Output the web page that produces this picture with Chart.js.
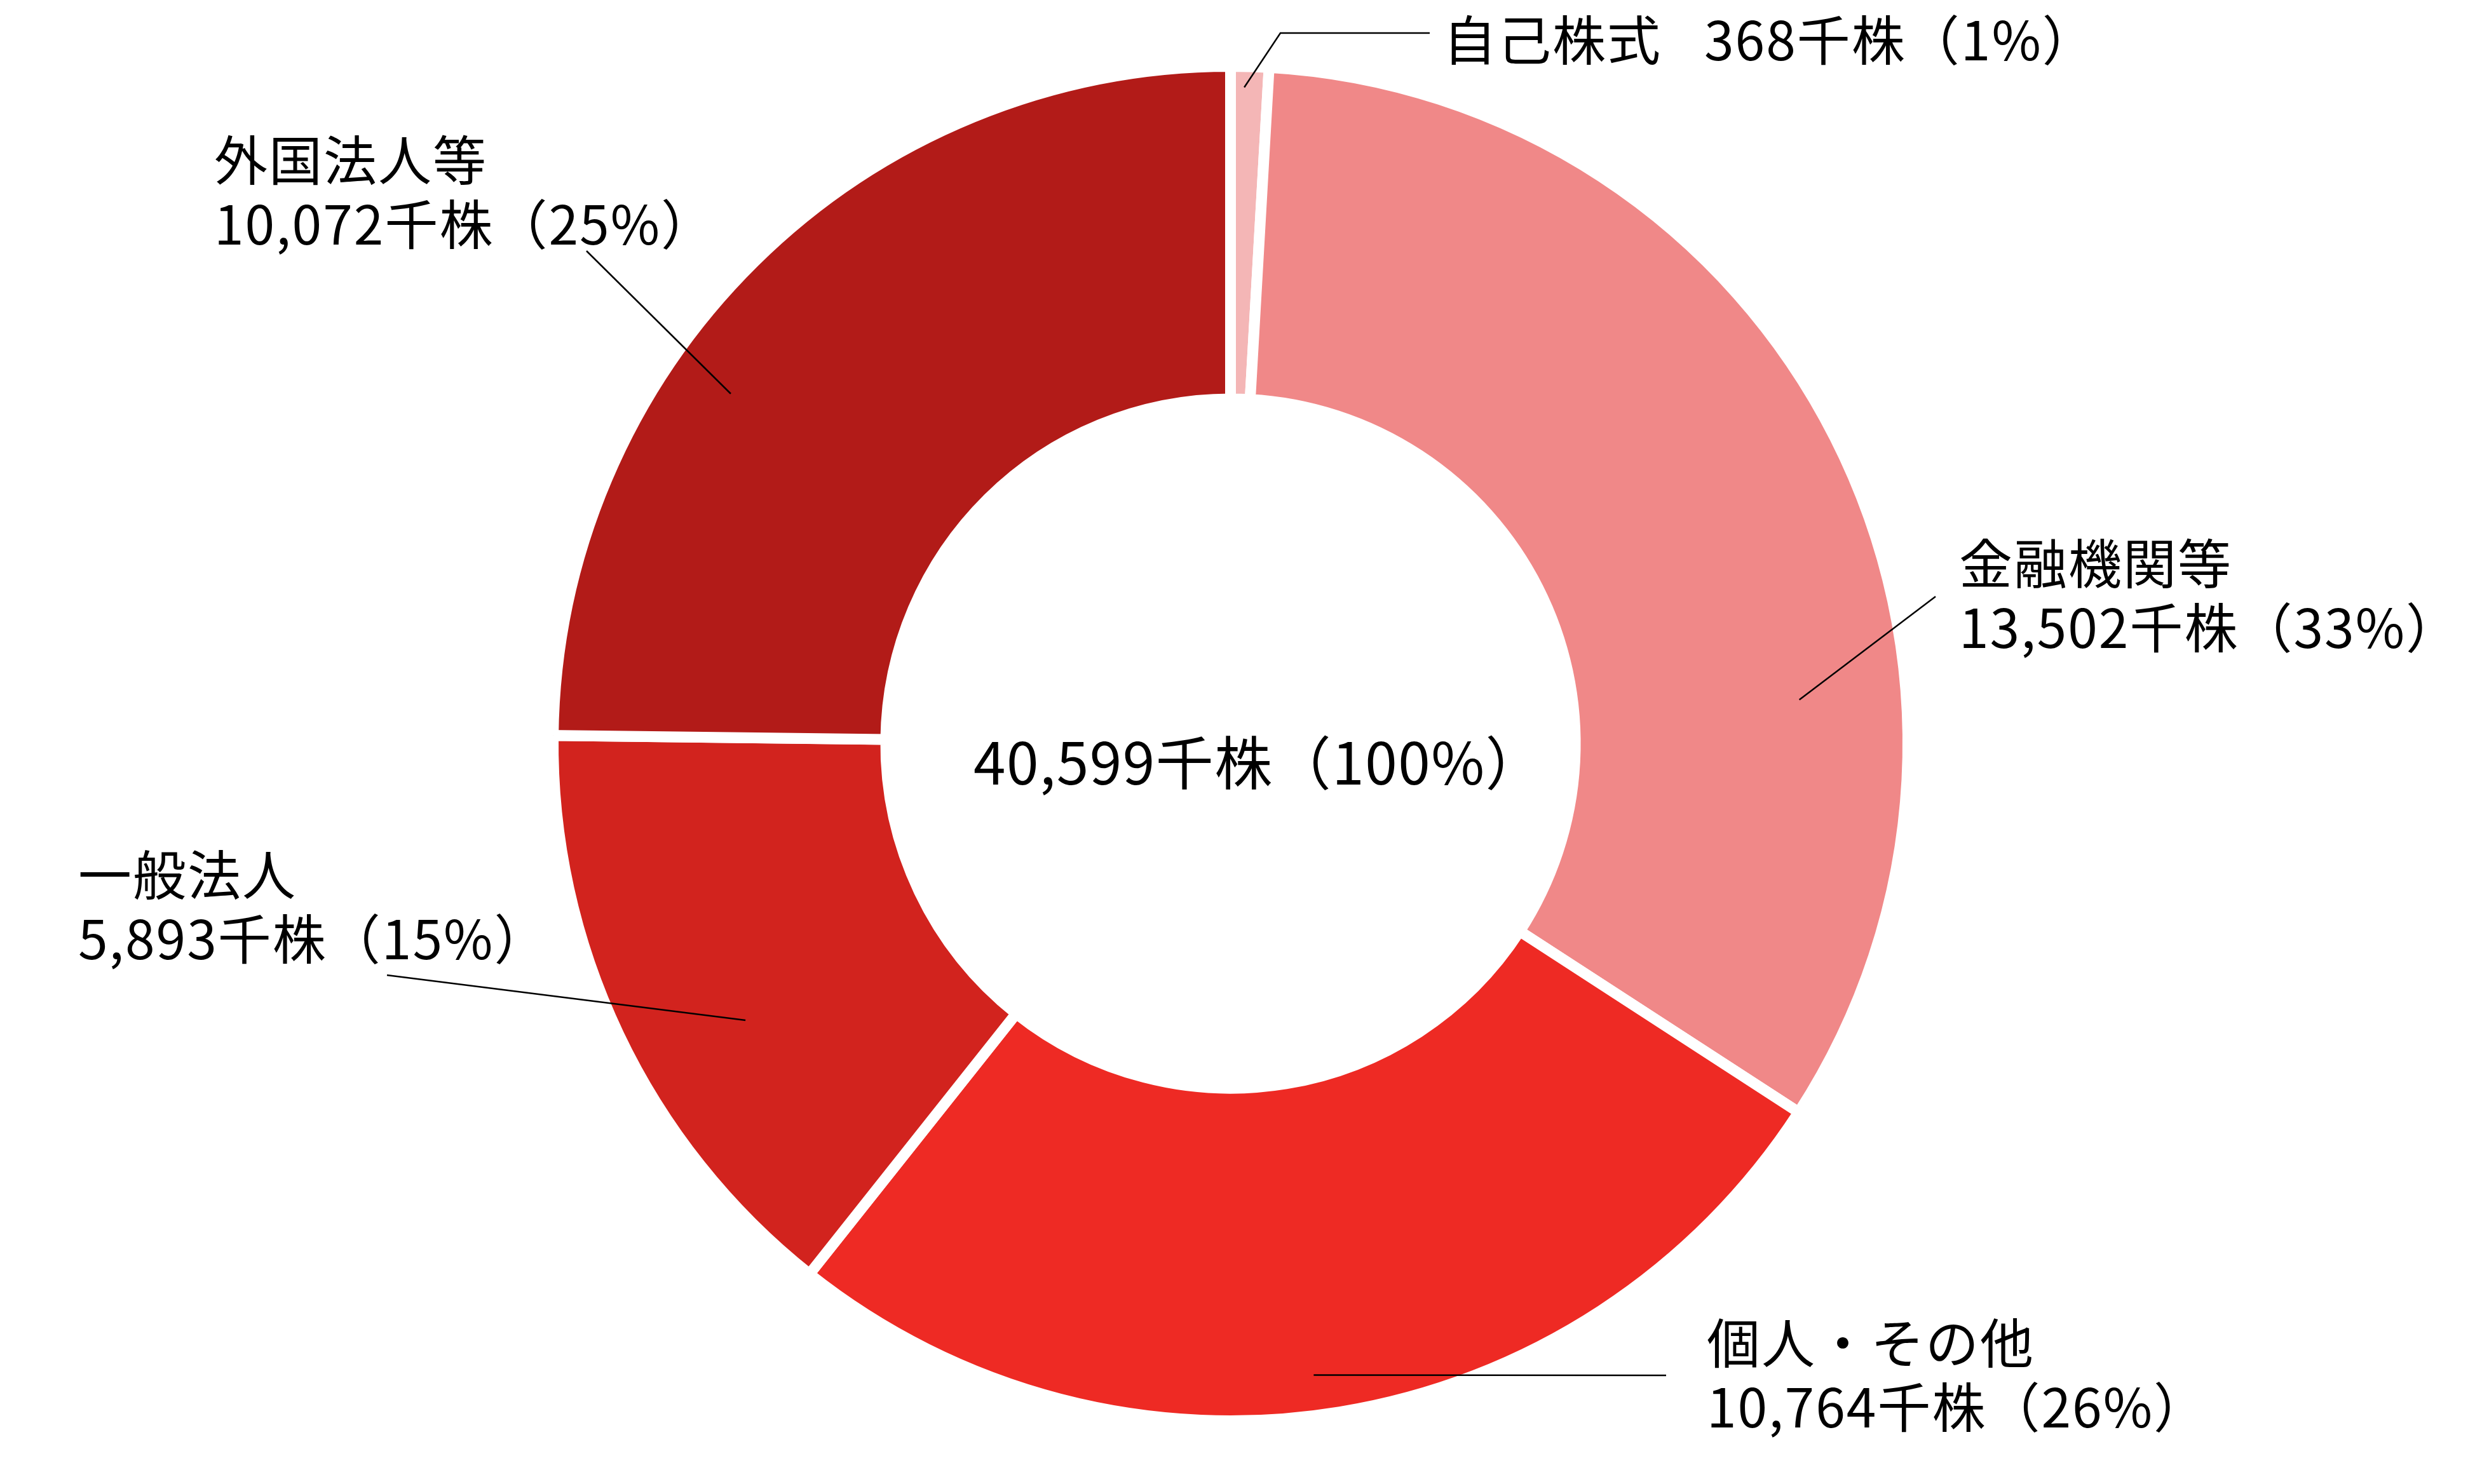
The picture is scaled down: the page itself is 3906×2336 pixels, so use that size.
<!DOCTYPE html>
<html>
<head>
<meta charset="utf-8">
<script src="https://cdn.jsdelivr.net/npm/chart.js@4.4.0/dist/chart.umd.min.js"></script>
<style>
  html, body { margin: 0; padding: 0; background: #fff; }
  #wrap { width: 3906px; height: 2336px; position: relative; }
</style>
</head>
<body>
<div id="wrap"><canvas id="chart" width="3906" height="2336"></canvas></div>
<script>
// Shareholder composition (thousand shares), clockwise from 12 o'clock
const categories = ['自己株式', '金融機関等', '個人・その他', '一般法人', '外国法人等'];
const shares = [368, 13502, 10764, 5893, 10072];
const percents = [1, 33, 26, 15, 25];
const totalShares = 40599;
const totalPercent = 100;
const sliceColors = ['#F4B6B6', '#F08888', '#EE2A24', '#D2231E', '#B21B18'];

const FONT = '"Noto Sans CJK JP", "Noto Sans", sans-serif';
const fmt = n => n.toLocaleString('en-US');

// Label placement: leader starts inside the slice (angle clockwise from top, fraction of radius)
const labelLayout = [
    { angle: 1.2, rFrac: 0.977, path: [[2015, 52], [2250, 52]], oneLine: true, x: 2271, x2: 2682, y: 95 },
    { angle: 85.6, rFrac: 0.849, path: [[3046, 939]], x: 3083, y: 919 },
    { angle: 172.5, rFrac: 0.948, path: [[2622, 2165]], x: 2686, y: 2146 },
    { angle: 240.3, rFrac: 0.831, path: [[609, 1535]], x: 123, y: 1409 },
    { angle: 305, rFrac: 0.908, path: [[923, 395]], x: 337, y: 284 }
];
const lineGap = 101;

const labelPlugin = {
    id: 'labels',
    afterDraw(chart) {
        const ctx = chart.ctx;
        const arcs = chart.getDatasetMeta(0).data;
        const cx = arcs[0].x, cy = arcs[0].y;
        const R = arcs[0].outerRadius - 8.5;
        ctx.save();
        ctx.fillStyle = '#000';
        ctx.textBaseline = 'alphabetic';
        ctx.font = '84px ' + FONT;
        ctx.letterSpacing = '2px';
        labelLayout.forEach((lab, i) => {
            const a = lab.angle * Math.PI / 180;
            const sx = cx + Math.sin(a) * R * lab.rFrac;
            const sy = cy - Math.cos(a) * R * lab.rFrac;
            ctx.strokeStyle = '#000';
            ctx.lineWidth = 2.5;
            ctx.beginPath();
            ctx.moveTo(sx, sy);
            lab.path.forEach(p => ctx.lineTo(p[0], p[1]));
            ctx.stroke();
            const valueText = fmt(shares[i]) + '千株（' + percents[i] + '%）';
            ctx.textAlign = 'left';
            if (lab.oneLine) {
                ctx.fillText(categories[i], lab.x, lab.y);
                ctx.fillText(valueText, lab.x2, lab.y);
            } else {
                ctx.fillText(categories[i], lab.x, lab.y);
                ctx.fillText(valueText, lab.x, lab.y + lineGap);
            }
        });
        // total in the hole
        ctx.font = '91px ' + FONT;
        ctx.letterSpacing = '1.5px';
        ctx.textAlign = 'center';
        ctx.fillText(fmt(totalShares) + '千株（' + totalPercent + '%）', 1981, 1235);
        ctx.restore();
    }
};

new Chart(document.getElementById('chart').getContext('2d'), {
    type: 'doughnut',
    data: {
        labels: categories,
        datasets: [{
            data: shares,
            backgroundColor: sliceColors,
            borderColor: '#ffffff',
            borderWidth: 17,
            borderJoinStyle: 'miter',
            hoverBorderWidth: 17
        }]
    },
    options: {
        responsive: false,
        animation: false,
        radius: 1066,
        cutout: '50.9%',
        layout: { padding: { left: 0, right: 33, top: 5, bottom: 0 } },
        plugins: {
            legend: { display: false },
            tooltip: { enabled: false }
        },
        events: []
    },
    plugins: [labelPlugin]
});
</script>
</body>
</html>
